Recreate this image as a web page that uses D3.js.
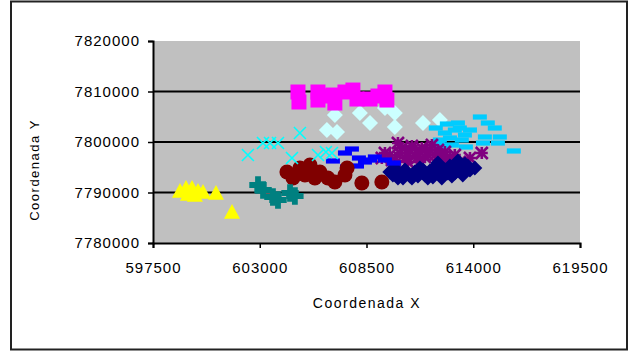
<!DOCTYPE html>
<html>
<head>
<meta charset="utf-8">
<script src="https://cdn.jsdelivr.net/npm/d3@7"></script>
<style>
    body { margin: 0; background: #fff; }
    svg { display: block; font-family: "Liberation Sans", Arial, sans-serif; }
</style>
</head>
<body>
<svg></svg>
<script>
// Tick values
let xTicks = [597500, 603000, 608500, 614000, 619500]
let yTicks = [7780000, 7790000, 7800000, 7810000, 7820000]

// Series (x, y)
let navy = [
    [609700, 7794060], [609960, 7794850], [610220, 7793660], [610480, 7794450], [610740, 7793270],
    [610990, 7794060], [611250, 7794850], [611510, 7793460], [611770, 7794260], [612020, 7795050],
    [612280, 7793660], [612540, 7794450], [612800, 7795250], [613050, 7793860], [613310, 7794650],
    [613570, 7795640], [613830, 7794450], [613210, 7796240], [610840, 7792870], [611660, 7792870],
    [612380, 7792870], [614080, 7794850], [610120, 7792870], [612900, 7793270], [611150, 7793270],
    [609860, 7793460], [610380, 7792870], [611410, 7794450], [611920, 7793070], [612690, 7793860],
    [613460, 7793460], [612180, 7795840], [613720, 7795250]
]
let magenta = [
    [604970, 7809900], [605020, 7807920], [606000, 7809900], [606000, 7808310], [606360, 7809110],
    [606770, 7809300], [606870, 7807720], [607390, 7809900], [607800, 7810290], [608010, 7808510],
    [608680, 7808510], [609090, 7809110], [609450, 7809900], [609550, 7808310]
]
let yellow = [
    [598890, 7790300], [599200, 7790890], [599510, 7790890], [599820, 7790300], [599300, 7789700],
    [599660, 7789500], [600075, 7790100], [600745, 7789900], [601570, 7786140]
]
let cyan = [
    [602390, 7797420], [603165, 7799800], [603530, 7799800], [603940, 7799800], [605070, 7801780],
    [604660, 7796830], [606000, 7797420], [606410, 7798020], [606720, 7797820]
]
let purple = [
    [610120, 7799800], [609290, 7796830], [609700, 7797420], [609960, 7796430], [610220, 7797820],
    [610480, 7796830], [610740, 7798410], [610990, 7797230], [611250, 7798020], [611510, 7797030],
    [611770, 7798410], [612020, 7797420], [612280, 7796430], [612540, 7798020], [612800, 7796830],
    [613050, 7797420], [611250, 7796040], [610630, 7796040], [614440, 7797820], [613310, 7796040],
    [611870, 7799400], [613830, 7796830], [609450, 7797820], [609810, 7796430], [610330, 7798810],
    [610840, 7799210], [611350, 7798810], [611660, 7797420], [612180, 7798410], [612690, 7796040],
    [612430, 7797030], [611100, 7796830]
]
let maroon = [
    [604400, 7794060], [604710, 7792870], [605070, 7794850], [605330, 7793460], [605590, 7795440],
    [605840, 7792870], [606100, 7794060], [606510, 7792870], [606870, 7792080], [607390, 7793460],
    [607500, 7794850], [608260, 7791880], [609290, 7792080]
]
let teal = [
    [602910, 7791480], [603170, 7790490], [603680, 7789110], [603940, 7788510], [604560, 7789900],
    [604810, 7789310]
]
let blue = [
    [606770, 7796240], [607390, 7797820], [607750, 7798610], [608110, 7796830], [608420, 7796040],
    [608930, 7797030], [609450, 7796430], [609910, 7795840], [608010, 7795250], [607500, 7795050],
    [608680, 7796430]
]
let lightCyan = [
    [606870, 7805340], [606460, 7802370], [606980, 7801980], [608160, 7805740], [608680, 7803760],
    [609450, 7806730], [609960, 7805740], [609960, 7802970], [611410, 7803760], [612280, 7804350]
]
let skyBlue = [
    [612280, 7800390], [612540, 7801780], [612800, 7800790], [613050, 7802370], [613310, 7802770],
    [613570, 7801390], [613830, 7802370], [614340, 7804950], [614750, 7803760], [615110, 7802770],
    [615370, 7800990], [615270, 7799800], [614500, 7799800], [616090, 7798220], [614600, 7800990],
    [612180, 7799800], [612070, 7802770], [612640, 7803560], [613210, 7803760], [612900, 7799400],
    [613410, 7800390], [613620, 7799010], [612380, 7799210]
]

let width = 634
let height = 352
let plot = { left: 153, right: 580, top: 41, bottom: 243 }

let svg = d3.select('svg')
    .attr('width', width)
    .attr('height', height)

// Outer frame
svg.append('rect')
    .attr('x', 11).attr('y', 1.5)
    .attr('width', 616).attr('height', 348)
    .attr('fill', '#fff')
    .attr('stroke', '#222')
    .attr('stroke-width', 2)

let scale = {
    x: d3.scaleLinear().domain([597500, 619500]).range([plot.left, plot.right]),
    y: d3.scaleLinear().domain([7780000, 7820000]).range([plot.bottom, plot.top])
}

// Plot area
svg.append('rect')
    .attr('x', plot.left).attr('y', plot.top)
    .attr('width', plot.right - plot.left)
    .attr('height', plot.bottom - plot.top)
    .attr('fill', '#c0c0c0')

// Gridlines
svg.append('g')
    .selectAll('line')
    .data(yTicks.slice(1, -1))
    .enter()
    .append('line')
    .attr('x1', plot.left).attr('x2', plot.right)
    .attr('y1', d => scale.y(d)).attr('y2', d => scale.y(d))
    .attr('stroke', '#000')
    .attr('stroke-width', 2)

// Axes
let axis = {
    x: d3.axisBottom(scale.x).tickValues(xTicks).tickSize(5).tickPadding(14).tickFormat(d => d),
    y: d3.axisLeft(scale.y).tickValues(yTicks).tickSize(5).tickPadding(8).tickFormat(d => d)
}

let gx = svg.append('g')
    .attr('transform', `translate(0,${plot.bottom})`)
    .call(axis.x)
let gy = svg.append('g')
    .attr('transform', `translate(${plot.left},0)`)
    .call(axis.y)

for (let g of [gx, gy]) {
    g.select('.domain').attr('stroke', '#000').attr('stroke-width', 2)
    g.selectAll('.tick line').attr('stroke', '#000').attr('stroke-width', 1.5)
    g.selectAll('.tick text')
        .attr('fill', '#000')
        .style('font-size', '15px')
        .style('letter-spacing', '1px')
}

// Marker shapes
function diamond(r) {
    return `M0,${-r}L${r},0L0,${r}L${-r},0Z`
}
let shapes = {
    diamond: r => diamond(r),
    square: r => `M${-r},${-r}h${2 * r}v${2 * r}h${-2 * r}Z`,
    triangle: r => `M0,${-r}L${r},${r * 0.85}L${-r},${r * 0.85}Z`,
    circle: r => d3.symbol(d3.symbolCircle, Math.PI * r * r)(),
    cross: r => d3.symbol(d3.symbolCross, r * r * 3)(),
    dash: r => `M${-r},-2.6h${2 * r}v5.2h${-2 * r}Z`
}

function drawFilled(data, color, shape, r) {
    svg.append('g')
        .selectAll('path')
        .data(data)
        .enter()
        .append('path')
        .attr('transform', d => `translate(${scale.x(d[0])},${scale.y(d[1])})`)
        .attr('d', shapes[shape](r))
        .attr('fill', color)
}

function drawX(data, color, r) {
    svg.append('g')
        .selectAll('path')
        .data(data)
        .enter()
        .append('path')
        .attr('transform', d => `translate(${scale.x(d[0])},${scale.y(d[1])})`)
        .attr('d', `M${-r},${-r}L${r},${r}M${-r},${r}L${r},${-r}`)
        .attr('stroke', color)
        .attr('stroke-width', 1.6)
        .attr('fill', 'none')
}

function drawStar(data, color, r) {
    svg.append('g')
        .selectAll('path')
        .data(data)
        .enter()
        .append('path')
        .attr('transform', d => `translate(${scale.x(d[0])},${scale.y(d[1])})`)
        .attr('d', `M${-r},${-r}L${r},${r}M${-r},${r}L${r},${-r}M0,${-r}V${r}M${-r},0H${r}`)
        .attr('stroke', color)
        .attr('stroke-width', 2.6)
        .attr('fill', 'none')
}

drawFilled(lightCyan, '#ccffff', 'diamond', 8)
drawFilled(magenta, '#ff00ff', 'square', 7.5)
drawFilled(skyBlue, '#00ccff', 'dash', 7)
drawStar(purple, '#800080', 6)
drawFilled(navy, '#000080', 'diamond', 7.5)
drawFilled(blue, '#0000ff', 'dash', 7)
drawFilled(maroon, '#800000', 'circle', 7.5)
drawFilled(teal, '#008080', 'cross', 7.5)
drawFilled(yellow, '#ffff00', 'triangle', 8)
drawX(cyan, '#00ffff', 6)

// Axis titles
svg.append('text')
    .attr('x', 367)
    .attr('y', 308)
    .attr('text-anchor', 'middle')
    .style('font-size', '14px')
    .style('letter-spacing', '1.5px')
    .text('Coordenada X')

svg.append('text')
    .attr('transform', `translate(39,170) rotate(-90)`)
    .attr('text-anchor', 'middle')
    .style('font-size', '13px')
    .style('letter-spacing', '1.5px')
    .text('Coordenada Y')
</script>
</body>
</html>
